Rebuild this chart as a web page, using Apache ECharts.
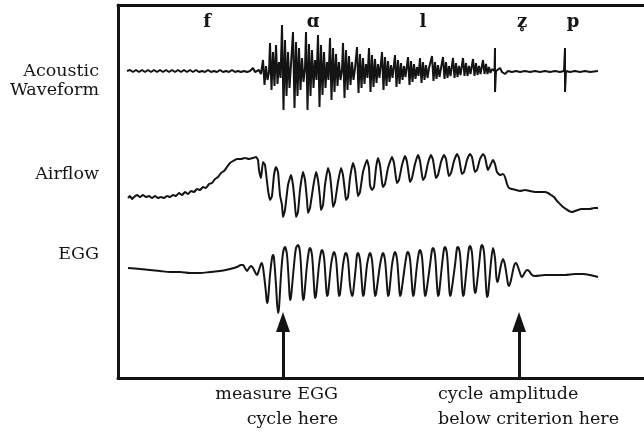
<!DOCTYPE html>
<html>
<head>
<meta charset="utf-8">
<script src="https://cdn.jsdelivr.net/npm/echarts@6/dist/echarts.min.js"></script>
<style>
html,body{margin:0;padding:0;background:#fff;}
#main{width:644px;height:433px;}
</style>
</head>
<body>
<div id="main"></div>
<script>
// time runs left to right, vertical position of each trace
var acousticWave = [
	[127,71],[130,70],[133,72],[136,70],[139,72],[142,70],[145,72],[148,70],[151,72],[154,70],
	[157,72],[160,70],[163,72],[166,70],[169,72],[172,70],[175,72],[178,70],[181,72],[184,70],
	[187,72],[190,70],[193,72],[196,70],[199,72],[202,71],[205,72],[208,70],[211,72],[214,71],
	[217,72],[220,70],[223,72],[226,71],[229,72],[232,70],[235,72],[238,71],[241,72],[244,71],
	[247,72],[250,71],[253,68],[255,72],[257,73],[259,70],[261,74],
	[263,60],[264.5,85],[266,66],[267.5,80],[269,72],
	[270,43],[271.5,90],[273,52],[274.5,86],[276,45],[277.5,84],[279,62],[280.5,78],
	[282,25],[283.5,110],[285,40],[286.5,96],[288,52],[289.5,88],[291,64],
	[293,32],[294.5,108],[296,42],[297.5,96],[299,48],[300.5,90],[302,58],[303.5,82],[305,68],
	[306,32],[307.5,110],[309,44],[310.5,96],[312,50],[313.5,88],[315,60],[316.5,80],
	[318,35],[319.5,107],[321,45],[322.5,95],[324,52],[325.5,88],[327,62],[328.5,80],
	[330,38],[331.5,100],[333,48],[334.5,92],[336,54],[337.5,86],[339,62],[340.5,80],[342,70],
	[343,43],[344.5,98],[346,50],[347.5,90],[349,56],[350.5,85],[352,62],[353.5,80],[355,68],
	[357,47],[358.5,93],[360,54],[361.5,88],[363,58],[364.5,84],[366,64],[367.5,78],
	[369,48],[370.5,92],[372,55],[373.5,87],[375,59],[376.5,83],[378,64],[379.5,78],
	[382,52],[383.5,90],[385,57],[386.5,86],[388,61],[389.5,82],[391,65],[392.5,78],
	[395,55],[396.5,87],[398,60],[399.5,84],[401,63],[402.5,80],[404,66],[405.5,77],
	[408,57],[409.5,85],[411,61],[412.5,82],[414,64],[415.5,79],[417,67],[418.5,76],
	[420,58],[421.5,83],[423,62],[424.5,80],[426,65],[427.5,78],[429,68],
	[432,56],[433.5,81],[435,62],[436.5,79],[438,65],[439.5,77],[441,68],
	[443,57],[444.5,79],[446,62],[447.5,78],[449,66],[450.5,76],
	[453,58],[454.5,78],[456,63],[457.5,77],[459,66],[460.5,75],
	[463,58],[464.5,76],[466,63],[467.5,76],[469,66],[470.5,74],
	[473,59],[474.5,76],[476,63],[477.5,75],[479,66],[480.5,74],
	[483,60],[484.5,74],[486,64],[487.5,74],[489,67],[490.5,73],[492,69],
	[494.5,71],[495,48],[495,92],[496,71],
	[498,72],[500,68],[502,72],[505,74],[508,71],[512,72],[516,71],[520,72],[525,71],[530,72],
	[535,71],[540,72],[545,71],[550,72],[555,71],[560,72],[564,71],
	[565,48],[565,92],[566,71],[570,72],[575,71],[580,72],[585,71],[590,72],[598,71]
];

var airflowWave = [
	[128,198],[130,196],[132,199],[134,197],[137,195],[140,197],[143,195],[146,197],[149,196],[152,198],
	[155,196],[158,198],[161,197],[164,198],[167,196],[170,197],[173,195],[176,196],[179,193],[182,195],
	[185,192],[188,194],[191,191],[194,192],[197,189],[200,190],[203,187],[206,188],[209,184],[212,183],
	[215,179],[218,177],[221,173],[224,171],[227,167],[230,163],[233,161],[237,159],[241,159],[245,158],
	[249,159],[253,158],[256,157],[258,160],
	[259,170],[261,178],[263,162],[265,165],[268,190],[270,200],[272,196],[274,175],[276,167],[278,172],
	[280,195],[282,205],[283,217],[285,210],[288,185],[291,175],[293,185],[295,205],[296,217],[298,212],
	[300,190],[303,172],[305,180],[307,200],[308,213],[310,208],[313,188],[316,172],[318,180],[320,198],
	[321,210],[323,205],[325,185],[328,168],[330,175],[332,195],[333,207],[335,202],[338,182],[341,168],
	[343,175],[345,192],[346,200],[348,197],[350,178],[353,163],[355,170],[357,188],[358,196],[360,192],
	[363,172],[367,160],[369,168],[370,185],[372,190],[374,187],[376,168],[378,158],[380,165],[382,182],
	[383,187],[385,184],[388,168],[392,157],[394,163],[396,178],[397,183],[399,180],[402,165],[405,156],
	[407,162],[409,176],[410,182],[412,178],[415,164],[418,155],[420,161],[422,175],[423,180],[425,177],
	[428,163],[431,155],[433,160],[435,173],[436,178],[438,175],[441,162],[444,155],[446,159],[448,172],
	[449,176],[451,173],[454,161],[457,154],[459,158],[461,170],[462,174],[464,172],[467,160],[470,154],
	[472,157],[474,168],[475,172],[477,170],[480,159],[483,154],[485,157],[487,167],[488,170],[490,166],
	[493,160],[495,164],[497,172],[500,175],[503,174],[505,177],[507,184],[509,188],[512,189],[516,190],
	[520,191],[525,190],[530,191],[535,192],[540,192],[545,192],[548,193],[551,195],[554,197],[557,201],
	[560,204],[563,207],[566,209],[569,211],[572,212],[575,211],[578,210],[581,209],[585,209],[590,209],
	[594,208],[598,208]
];

var eggWave = [
	[128,268],[140,269],[150,270],[160,271],[170,272],[180,272],[190,273],[200,273],[210,272],[220,271],
	[230,269],[237,267],[241,265],[243,265],[245,268],[247,271],[249,268],[251,266],[253,268],[255,272],
	[257,275],[259,270],[261,264],[262,263],[264,275],[266,293],[267,303],[268,300],[270,275],[272,258],
	[273,255],[274,258],[276,285],[278,313],[279,308],[281,275],[283,253],[285,247],[287,255],[289,285],
	[290,300],[291,297],[294,265],[296,248],[298,245],[300,252],[302,285],[303,300],[304,298],[307,265],
	[309,250],[310,248],[312,255],[314,285],[315,298],[316,296],[319,265],[321,252],[322,250],[324,257],
	[326,285],[327,296],[328,294],[331,265],[333,254],[334,252],[336,259],[338,285],[339,296],[340,294],
	[343,265],[345,254],[346,253],[348,260],[350,285],[352,296],[353,294],[356,265],[357,255],[358,253],
	[360,260],[362,285],[363,296],[364,294],[367,265],[369,255],[370,253],[372,260],[374,285],[375,296],
	[376,294],[380,265],[382,255],[383,253],[385,260],[387,285],[388,296],[389,294],[392,265],[394,254],
	[395,252],[397,259],[399,285],[400,296],[401,294],[405,265],[407,253],[408,252],[410,259],[412,285],
	[413,296],[414,294],[417,265],[419,252],[420,250],[422,257],[424,285],[425,296],[426,294],[430,265],
	[432,250],[433,248],[435,255],[437,285],[438,296],[439,294],[442,265],[444,249],[445,247],[447,254],
	[449,285],[450,296],[451,294],[455,265],[457,248],[458,247],[460,254],[462,285],[463,296],[464,294],
	[467,265],[469,248],[470,246],[472,253],[474,285],[475,293],[476,291],[479,265],[481,247],[482,245],
	[484,252],[486,285],[487,297],[488,295],[491,262],[493,248],[495,258],[497,282],[498,281],[501,265],
	[503,259],[505,265],[508,284],[509,286],[511,280],[514,266],[516,263],[518,267],[521,276],[522,277],
	[524,274],[527,270],[529,271],[532,275],[535,276],[545,275],[555,275],[565,275],[575,274],[583,274],
	[590,275],[598,277]
];

// segment labels along the top
var phonemes = ['f', '\u0251', 'l', 'z\u0325', 'p'];
var phonemeX = [207, 313, 423, 522, 573];
var phonemeY = 22;

// arrows under the EGG trace
var arrowX = [283, 519];
var arrowFrom = 378;
var arrowTo = 322;

var phonemeData = [];
for (var i = 0; i < phonemes.length; i++) {
	phonemeData.push({ value: [phonemeX[i], phonemeY], name: phonemes[i] });
}
var arrowData = [];
for (var j = 0; j < arrowX.length; j++) {
	arrowData.push([{ coord: [arrowX[j], arrowFrom] }, { coord: [arrowX[j], arrowTo] }]);
}

var ink = '#141414';
var textFont = '17.5px "DejaVu Serif"';

function traceSeries(name, data, w, smooth) {
	return {
		name: name,
		type: 'line',
		data: data,
		symbol: 'none',
		silent: true,
		smooth: smooth,
		lineStyle: { color: ink, width: w }
	};
}

function caption(text, pos) {
	var g = { type: 'text', top: pos.top, style: { text: text, fill: ink, font: textFont } };
	if (pos.right != null) {
		g.right = pos.right;
		g.style.textAlign = 'right';
	} else {
		g.left = pos.left;
	}
	return g;
}

var chart = echarts.init(document.getElementById('main'));

var option = {
	backgroundColor: '#fff',
	animation: false,
	grid: { left: 118, right: 0, top: 5, bottom: 55 },
	xAxis: [
		{
			type: 'value', min: 118, max: 644, position: 'bottom',
			axisLine: { show: true, onZero: false, lineStyle: { color: ink, width: 3 } },
			axisTick: { show: false }, axisLabel: { show: false }, splitLine: { show: false }
		},
		{
			type: 'value', min: 118, max: 644, position: 'top',
			axisLine: { show: true, onZero: false, lineStyle: { color: ink, width: 3 } },
			axisTick: { show: false }, axisLabel: { show: false }, splitLine: { show: false }
		}
	],
	yAxis: {
		type: 'value', min: 5, max: 378, inverse: true,
		axisLine: { show: true, onZero: false, lineStyle: { color: ink, width: 3 } },
		axisTick: { show: false }, axisLabel: { show: false }, splitLine: { show: false }
	},
	series: [
		traceSeries('Acoustic Waveform', acousticWave, 2, false),
		traceSeries('Airflow', airflowWave, 2, 0.15),
		traceSeries('EGG', eggWave, 2, 0.3),
		{
			name: 'phonemes',
			type: 'scatter',
			data: phonemeData,
			symbolSize: 0,
			silent: true,
			itemStyle: { opacity: 1 },
			label: {
				show: true,
				position: 'inside',
				formatter: '{b}',
				color: ink,
				opacity: 1,
				fontFamily: 'DejaVu Serif',
				fontWeight: 'bold',
				fontSize: 18
			}
		},
		{
			name: 'arrows',
			type: 'line',
			data: [],
			markLine: {
				silent: true,
				symbol: ['none', 'triangle'],
				symbolSize: [14, 20],
				label: { show: false },
				lineStyle: { type: 'solid', color: ink, width: 3, opacity: 1 },
				data: arrowData
			}
		}
	],
	graphic: [
		caption('Acoustic', { right: 545, top: 62 }),
		caption('Waveform', { right: 545, top: 81 }),
		caption('Airflow', { right: 545, top: 165 }),
		caption('EGG', { right: 545, top: 245 }),
		caption('measure EGG', { right: 306, top: 385 }),
		caption('cycle here', { right: 306, top: 410 }),
		caption('cycle amplitude', { left: 438, top: 385 }),
		caption('below criterion here', { left: 438, top: 410 })
	]
};

chart.setOption(option);
</script>
</body>
</html>
